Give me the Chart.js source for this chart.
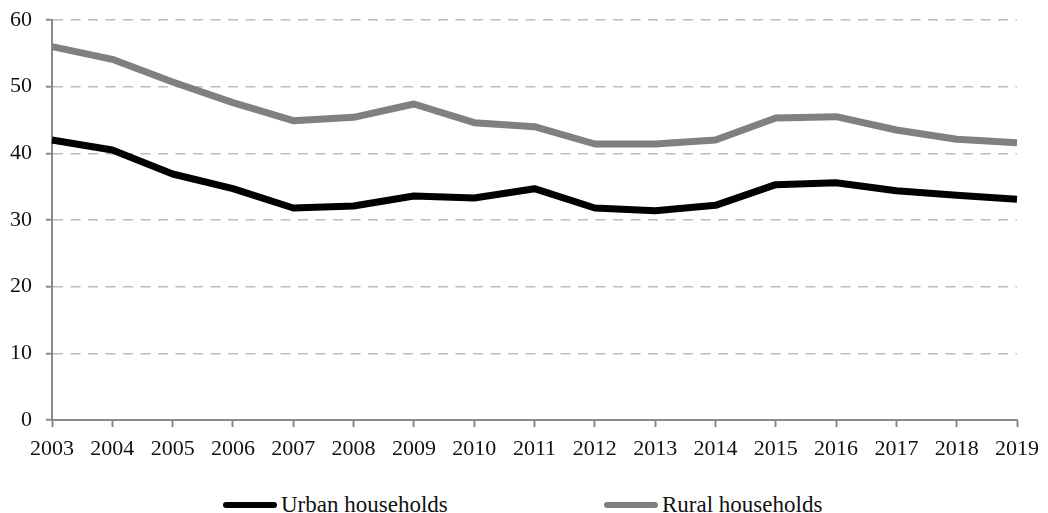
<!DOCTYPE html>
<html>
<head>
<meta charset="utf-8">
<script src="https://cdn.jsdelivr.net/npm/chart.js@4"></script>
<style>
  html, body { margin: 0; padding: 0; background: #fff; }
  #wrap { position: relative; width: 1048px; height: 513px; }
  #chart-box { position: absolute; left: 0; top: 0; width: 1048px; height: 470px; }
  .legend-item { position: absolute; top: 491px; height: 28px; display: flex; align-items: center;
    font-family: "Liberation Serif", "DejaVu Serif", serif; font-size: 23px; color: #111; }
  .legend-line { width: 54px; height: 6px; border-radius: 3px; margin-right: 4px; }
</style>
</head>
<body>
<div id="wrap">
  <div id="chart-box"><canvas id="chart"></canvas></div>
  <div class="legend-item" style="left:223px"><span class="legend-line" style="background:#000"></span>Urban households</div>
  <div class="legend-item" style="left:604px"><span class="legend-line" style="background:#808080"></span>Rural households</div>
</div>
<script>
const years = ["2003", "2004", "2005", "2006", "2007", "2008", "2009", "2010", "2011",
  "2012", "2013", "2014", "2015", "2016", "2017", "2018", "2019"];
const urban = [42.0, 40.5, 36.9, 34.7, 31.8, 32.1, 33.6, 33.3, 34.7,
  31.8, 31.4, 32.2, 35.3, 35.6, 34.4, 33.7, 33.1];
const rural = [56.0, 54.1, 50.7, 47.6, 44.9, 45.4, 47.4, 44.6, 44.0,
  41.4, 41.4, 42.0, 45.3, 45.5, 43.5, 42.1, 41.6];
const yTicks = [0, 10, 20, 30, 40, 50, 60];

const axisFont = { family: "Liberation Serif", size: 22 };

new Chart(document.getElementById("chart"), {
  type: "line",
  data: {
    labels: years,
    datasets: [
      {
        label: "Urban households",
        data: urban,
        borderColor: "#000",
        borderWidth: 7,
        pointRadius: 0,
        tension: 0,
        borderJoinStyle: "round",
      },
      {
        label: "Rural households",
        data: rural,
        borderColor: "#808080",
        borderWidth: 7,
        pointRadius: 0,
        tension: 0,
        borderJoinStyle: "round",
      },
    ],
  },
  options: {
    responsive: true,
    maintainAspectRatio: false,
    animation: false,
    layout: { padding: { top: 20, right: 29, left: 0, bottom: 0 } },
    plugins: { legend: { display: false }, tooltip: { enabled: false } },
    scales: {
      x: {
        offset: false,
        afterFit: (s) => { s.height = 50; },
        grid: { drawOnChartArea: false, drawTicks: true, tickLength: 7, tickColor: "#8a8a8a", tickWidth: 2 },
        border: { color: "#8a8a8a", width: 2 },
        ticks: { color: "#111", font: axisFont, padding: 9, maxRotation: 0, autoSkip: false },
      },
      y: {
        min: 0,
        max: 60,
        afterFit: (s) => { s.width = 52; s.paddingTop = 0; },
        afterBuildTicks: (s) => { s.ticks = yTicks.map((v) => ({ value: v })); },
        grid: { color: "#bdbdbd", lineWidth: 1.5, tickLength: 6, tickColor: "#8a8a8a", tickWidth: 2, tickBorderDash: [] },
        border: { color: "#8a8a8a", width: 2, dash: [10, 7.5] },
        ticks: { color: "#111", font: axisFont, padding: 14 },
      },
    },
  },
});
</script>
</body>
</html>
